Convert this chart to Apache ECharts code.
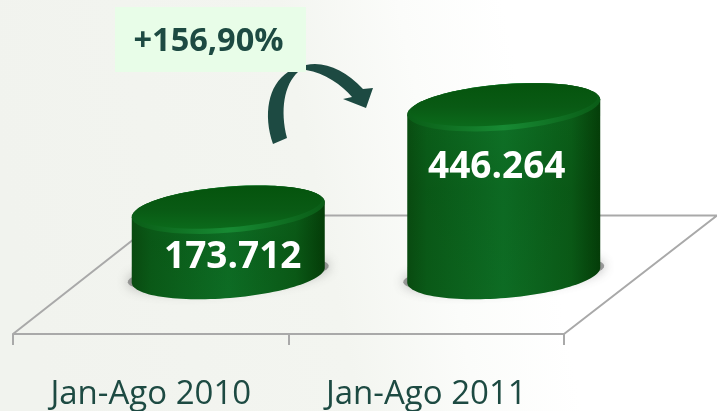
<!DOCTYPE html>
<html>
<head>
<meta charset="utf-8">
<style>
    html, body { margin: 0; padding: 0; background: #fff; }
    #chart { width: 717px; height: 411px; }
</style>
</head>
<body>
<div id="chart"></div>
<script src="https://cdn.jsdelivr.net/npm/echarts@6/dist/echarts.min.js"></script>
<script>
    var categories = ['Jan-Ago 2010', 'Jan-Ago 2011'];
    var values = [173712, 446264];
    var valueLabels = ['173.712', '446.264'];
    var changeLabel = '+156,90%';

    var textColor = '#1d4a42';
    var lineColor = '#a9a9a9';
    var font = '"Open Sans", "Noto Sans", sans-serif';

    // floor depth, the bars stand in the middle of it
    var depthX = 151, depthY = -118.5;
    var barOffX = 77.5, barOffY = -59;
    var rx = 96.8, ry = 23, tilt = -4.7 * Math.PI / 180;
    // label shift from the centre of the top face
    var labelShift = [[4.5, 48], [-7, 60]];

    function ellipsePoint(cx, cy, a, b, t) {
        return [
            cx + a * Math.cos(t) * Math.cos(tilt) - b * Math.sin(t) * Math.sin(tilt),
            cy + a * Math.cos(t) * Math.sin(tilt) + b * Math.sin(t) * Math.cos(tilt)
        ];
    }

    function arc(cx, cy, a, b, from, to) {
        var pts = [];
        for (var i = 0; i <= 60; i++) {
            pts.push(ellipsePoint(cx, cy, a, b, from + (to - from) * i / 60));
        }
        return pts;
    }

    function hGrad(stops) {
        return new echarts.graphic.LinearGradient(0, 0, 1, 0, stops);
    }

    function vGrad(stops) {
        return new echarts.graphic.LinearGradient(0, 0, 0, 1, stops);
    }

    function renderFloor(params, api) {
        var start = api.coord([0, 0]);
        var band = api.size([1, 0])[0];
        var x0 = start[0] - band / 2;
        var x1 = x0 + band * 2;
        var y0 = start[1];
        return {
            type: 'polyline',
            shape: { points: [[x0, y0], [x0 + depthX, y0 + depthY], [x1 + depthX + 2, y0 + depthY], [x1, y0]] },
            style: { fill: null, stroke: lineColor, lineWidth: 2 },
            silent: true
        };
    }

    function renderArrow() {
        return {
            type: 'path',
            shape: {
                pathData: 'M273 144 C263 115 268 85 288 72 L306 65 C325 61 345 70 363 89 L373 88 L366 108 L343 99 L352 97 C342 85 325 73 306 70 L298 72 C284 85 280 110 287 138 Z'
            },
            style: { fill: textColor },
            silent: true
        };
    }

    function renderCylinder(params, api) {
        var base = api.coord([api.value(0), 0]);
        var top = api.coord([api.value(0), api.value(1)]);
        var cx = base[0] + barOffX;
        var by = base[1] + barOffY;
        var ty = top[1] + barOffY;
        var shift = labelShift[params.dataIndex];
        var outline = arc(cx, by, rx, ry, 0, Math.PI).concat(arc(cx, ty, rx, ry, Math.PI, Math.PI * 2));

        return {
            type: 'group',
            children: [
                {
                    type: 'polygon',
                    shape: { points: arc(cx, by - 1, rx + 4, ry - 7, 0, Math.PI * 2) },
                    style: { fill: 'rgba(90,90,90,0.55)', shadowBlur: 12, shadowColor: 'rgba(70,70,70,0.75)' }
                },
                {
                    type: 'polygon',
                    shape: { points: outline },
                    style: {
                        fill: hGrad([
                            { offset: 0, color: '#0a4f12' },
                            { offset: 0.1, color: '#0b5f1a' },
                            { offset: 0.5, color: '#0f7428' },
                            { offset: 0.85, color: '#0b5f19' },
                            { offset: 1, color: '#053f09' }
                        ])
                    }
                },
                {
                    type: 'polygon',
                    shape: { points: outline },
                    style: {
                        fill: vGrad([
                            { offset: 0, color: 'rgba(0,40,0,0)' },
                            { offset: 0.5, color: 'rgba(0,40,0,0.14)' },
                            { offset: 1, color: 'rgba(0,40,0,0.1)' }
                        ])
                    }
                },
                {
                    type: 'polygon',
                    shape: { points: arc(cx, ty, rx, ry, 0, Math.PI * 2) },
                    style: {
                        fill: hGrad([
                            { offset: 0, color: '#0a5e17' },
                            { offset: 0.5, color: '#178a33' },
                            { offset: 1, color: '#0a5c16' }
                        ])
                    }
                },
                {
                    type: 'polygon',
                    shape: { points: arc(cx, ty - 2.5, rx - 3, ry - 2.8, 0, Math.PI * 2) },
                    style: {
                        fill: vGrad([
                            { offset: 0, color: '#05540d' },
                            { offset: 0.55, color: '#095a14' },
                            { offset: 1, color: '#0b6a1b' }
                        ])
                    }
                },
                {
                    type: 'text',
                    style: {
                        x: cx + shift[0],
                        y: ty + shift[1],
                        text: valueLabels[params.dataIndex],
                        fill: '#fff',
                        font: 'bold 37px ' + font,
                        align: 'center',
                        verticalAlign: 'middle'
                    }
                }
            ]
        };
    }

    var chart = echarts.init(document.getElementById('chart'), null, { renderer: 'canvas' });

    chart.setOption({
        animation: false,
        backgroundColor: new echarts.graphic.LinearGradient(0, 0.42, 1, 0.08, [
            { offset: 0, color: '#f1f3ee' },
            { offset: 0.42, color: '#f3f5f0' },
            { offset: 0.58, color: '#fbfcfa' },
            { offset: 0.72, color: '#ffffff' },
            { offset: 1, color: '#ffffff' }
        ]),
        grid: { left: 13, right: 153, top: 146, bottom: 76 },
        xAxis: {
            type: 'category',
            data: categories,
            axisLine: { lineStyle: { color: lineColor, width: 2 } },
            axisTick: { show: true, length: 11, lineStyle: { color: lineColor, width: 2 } },
            axisLabel: { color: textColor, fontFamily: font, fontSize: 33, margin: 44 }
        },
        yAxis: {
            type: 'value',
            min: 0,
            max: 500000,
            show: false
        },
        series: [
            {
                type: 'custom',
                renderItem: renderFloor,
                data: [[0]],
                silent: true,
                clip: false,
                z: 1
            },
            {
                type: 'custom',
                renderItem: renderCylinder,
                data: values.map(function (v, i) { return [i, v]; }),
                encode: { x: 0, y: 1 },
                clip: false,
                z: 2
            },
            {
                type: 'custom',
                renderItem: renderArrow,
                data: [[0]],
                silent: true,
                clip: false,
                z: 3
            }
        ],
        graphic: [
            {
                type: 'rect',
                z: 6,
                shape: { x: 115, y: 7, width: 191, height: 65 },
                style: { fill: '#e8fde8' }
            },
            {
                type: 'text',
                z: 7,
                style: {
                    x: 208.5,
                    y: 41.5,
                    text: changeLabel,
                    fill: textColor,
                    font: 'bold 32.5px ' + font,
                    align: 'center',
                    verticalAlign: 'middle'
                }
            }
        ]
    });
</script>
</body>
</html>
